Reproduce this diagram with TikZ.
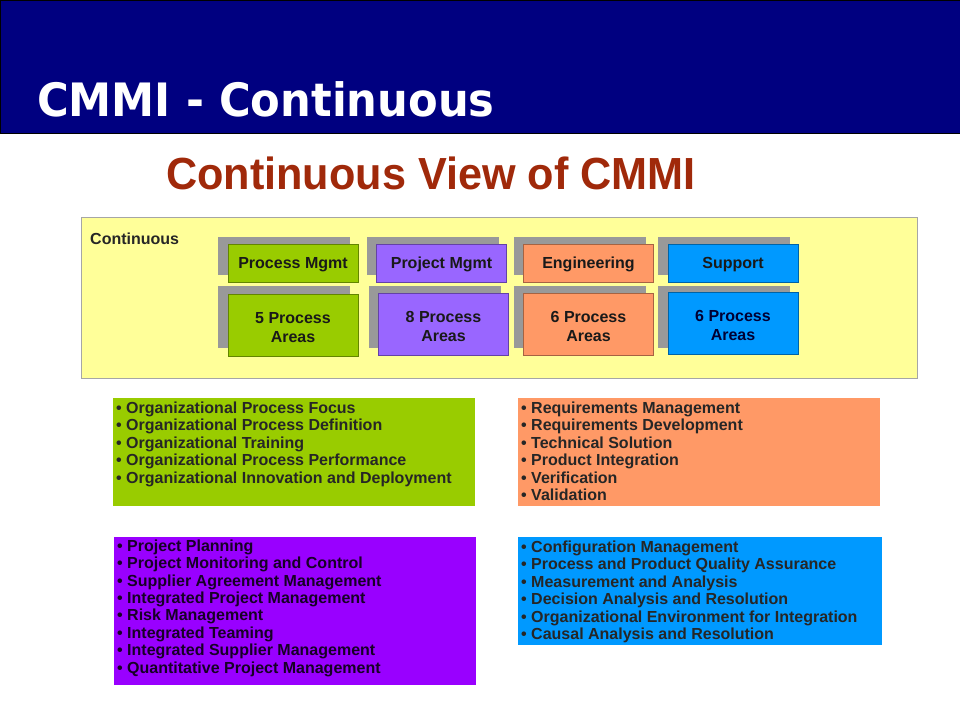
\documentclass[tikz,border=0pt]{standalone}
\usepackage{fontspec}
\usepackage{graphicx}
\setmainfont{Liberation Sans}
\newfontfamily\titlefont{DejaVu Sans}
\usepackage{xcolor}
\usetikzlibrary{positioning}
\definecolor{hdrblue}{HTML}{000080}
\definecolor{subred}{HTML}{A0290A}
\definecolor{paleyellow}{HTML}{FFFF99}
\definecolor{pmgreen}{HTML}{99CC00}
\definecolor{pjpurple}{HTML}{9966FF}
\definecolor{engorange}{HTML}{FF9966}
\definecolor{supblue}{HTML}{0099FF}
\definecolor{listpurple}{HTML}{9900FF}
\definecolor{shadowgray}{HTML}{999999}
\newcommand{\topstrut}{\rule{0pt}{15.5pt}}
\tikzstyle{centered} = [align=center, text centered, font=\bfseries\fontsize{16}{19}\selectfont]
% lists are anchored at the baseline of their last line
\tikzstyle{listtext} = [align=left, anchor=base west, inner sep=0pt, font=\bfseries\fontsize{16}{17.4}\selectfont]
\tikzset{
  % area box styles
  area/.style={centered, rectangle, minimum width=130pt, inner sep=0pt, draw=#1!65!black, fill=#1, text=black!90},
  head/.style={area=#1, minimum height=38pt, text depth=0pt},
  body/.style={area=#1, minimum height=62pt},
  shade/.style={rectangle, fill=shadowgray, inner sep=0pt, minimum width=132pt},
  % list box style
  listbox/.style={rectangle, fill=#1, inner sep=0pt, anchor=north west, minimum width=362pt},
}
\begin{document}
\begin{tikzpicture}[x=1pt, y=-1pt]
    \useasboundingbox (0,0) rectangle (960,720);
    % header
    \node(hdr)[rectangle, draw=black, fill=hdrblue, inner sep=0pt, anchor=north west,
        minimum width=960pt, minimum height=133pt] at (0,0) {};
    \node(hdrtitle)[anchor=base west, inner sep=0pt, text=white,
        font=\titlefont\bfseries\fontsize{46}{46}\selectfont] at (37,116) {\scalebox{0.94}[1]{CMMI - Continuous}};
    \node(subtitle)[anchor=base west, inner sep=0pt, text=subred,
        font=\bfseries\fontsize{45}{45}\selectfont] at (166,189) {\scalebox{0.96}[1]{Continuous View of CMMI}};
    % continuous frame
    \node(cont)[rectangle, draw=gray!70, fill=paleyellow, inner sep=0pt, anchor=north west,
        minimum width=836pt, minimum height=161pt] at (81,217) {};
    \node(contlbl)[anchor=west, inner sep=0pt, text=black!85,
        font=\bfseries\fontsize{16}{16}\selectfont] at (90,239) {Continuous};
    % shadows
    \node(PMhs)[shade, minimum height=38pt] at (284,256) {};
    \node(PMbs)[shade, minimum height=62pt] at (284,317) {};
    \node(PJhs)[shade, minimum height=38pt] at (433,256) {};
    \node(PJbs)[shade, minimum height=62pt] at (435,317) {};
    \node(ENhs)[shade, minimum height=38pt] at (580,256) {};
    \node(ENbs)[shade, minimum height=62pt] at (580,317) {};
    \node(SUhs)[shade, minimum height=38pt] at (724,256) {};
    \node(SUbs)[shade, minimum height=62pt] at (724,317) {};
    % category boxes
    \node(PMh)[head=pmgreen] at (293,263) {Process Mgmt};
    \node(PMb)[body=pmgreen] at (293,325) {\topstrut 5 Process\\Areas};
    \node(PJh)[head=pjpurple] at (441.5,263) {Project Mgmt};
    \node(PJb)[body=pjpurple] at (443.5,324) {\topstrut 8 Process\\Areas};
    \node(ENh)[head=engorange] at (588.5,263) {Engineering};
    \node(ENb)[body=engorange] at (588.5,324) {\topstrut 6 Process\\Areas};
    \node(SUh)[head=supblue] at (733,263) {Support};
    \node(SUb)[body=supblue, text=black!80!blue] at (733,323.5) {\topstrut 6 Process\\Areas};
    % process area lists
    \node(PMlist)[listbox=pmgreen, minimum height=108pt] at (113,398) {};
    \node(PMtxt)[listtext, text=black!85] at (116,483) {%
        \textbullet\ Organizational Process Focus\\
        \textbullet\ Organizational Process Definition\\
        \textbullet\ Organizational Training\\
        \textbullet\ Organizational Process Performance\\
        \textbullet\ Organizational Innovation and Deployment};
    \node(ENlist)[listbox=engorange, minimum height=108pt] at (518,398) {};
    \node(ENtxt)[listtext, text=black!85] at (521,500.5) {%
        \textbullet\ Requirements Management\\
        \textbullet\ Requirements Development\\
        \textbullet\ Technical Solution\\
        \textbullet\ Product Integration\\
        \textbullet\ Verification\\
        \textbullet\ Validation};
    \node(PJlist)[listbox=listpurple, minimum height=148pt] at (114,537) {};
    \node(PJtxt)[listtext, text=black!85!listpurple] at (117,673) {%
        \textbullet\ Project Planning\\
        \textbullet\ Project Monitoring and Control\\
        \textbullet\ Supplier Agreement Management\\
        \textbullet\ Integrated Project Management\\
        \textbullet\ Risk Management\\
        \textbullet\ Integrated Teaming\\
        \textbullet\ Integrated Supplier Management\\
        \textbullet\ Quantitative Project Management};
    \node(SUlist)[listbox=supblue, minimum width=364pt, minimum height=108pt] at (518,537) {};
    \node(SUtxt)[listtext, text=black!85] at (521,639.5) {%
        \textbullet\ Configuration Management\\
        \textbullet\ Process and Product Quality Assurance\\
        \textbullet\ Measurement and Analysis\\
        \textbullet\ Decision Analysis and Resolution\\
        \textbullet\ Organizational Environment for Integration\\
        \textbullet\ Causal Analysis and Resolution};
\end{tikzpicture}
\end{document}
